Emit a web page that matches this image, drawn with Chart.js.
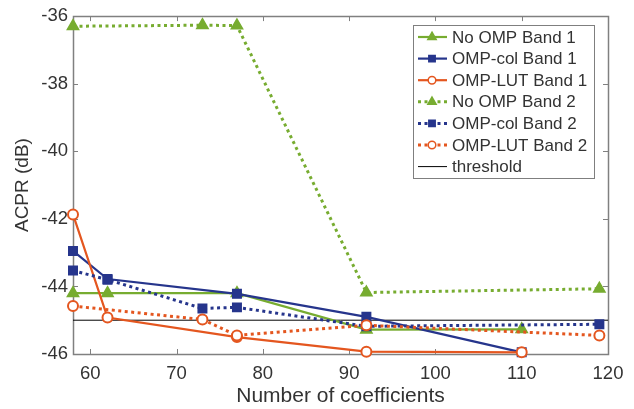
<!DOCTYPE html>
<html><head><meta charset="utf-8">
<script src="https://cdn.jsdelivr.net/npm/chart.js@4/dist/chart.umd.min.js"></script>
<style>html,body{margin:0;padding:0;background:#fff}#wrap{width:634px;height:409px}</style>
</head><body><div id="wrap"><canvas id="c" width="634" height="409"></canvas></div>
<script>
const xTicks = [60,70,80,90,100,110,120];
const yTicks = [-46,-44,-42,-40,-38,-36];

const noOmp1X = [58,62,77,92,110];
const noOmp1Y = [-44.2,-44.2,-44.2,-45.28,-45.27];
const col1X = [58,62,77,92,110];
const col1Y = [-42.95,-43.78,-44.22,-44.9,-45.95];
const lut1X = [58,62,77,92,110];
const lut1Y = [-41.87,-44.92,-45.5,-45.93,-45.95];
const noOmp2X = [58,73,77,92,119];
const noOmp2Y = [-36.3,-36.27,-36.28,-44.18,-44.07];
const col2X = [58,62,73,77,92,119];
const col2Y = [-43.53,-43.8,-44.65,-44.62,-45.18,-45.12];
const lut2X = [58,73,77,92,119];
const lut2Y = [-44.58,-44.98,-45.45,-45.15,-45.45];
const thrX = [58,120];
const thrY = [-45,-45];

const GREEN='#77AC30', BLUE='#26358C', ORANGE='#E4561F';
const FONT='"Liberation Sans", Arial, sans-serif';
const pts=(xs,ys)=>xs.map((x,i)=>({x:x,y:ys[i]}));

function ds(label,xs,ys,color,style,dotted,fill){
  return {label:label,data:pts(xs,ys),borderColor:color,backgroundColor:fill,
    borderWidth:dotted?3:2.2,borderDash:dotted?[3,3.5]:[],pointStyle:style,
    pointRadius:style==='triangle'?6.5:(style==='rect'?6:5),pointBorderWidth:style==='circle'?2:1.5,
    pointBorderColor:color,pointBackgroundColor:fill,tension:0,clip:false,showLine:true};
}
const datasets=[
  ds('No OMP Band 1',noOmp1X,noOmp1Y,GREEN,'triangle',false,GREEN),
  ds('OMP-col Band 1',col1X,col1Y,BLUE,'rect',false,BLUE),
  ds('OMP-LUT Band 1',lut1X,lut1Y,ORANGE,'circle',false,'#ffffff'),
  ds('No OMP Band 2',noOmp2X,noOmp2Y,GREEN,'triangle',true,GREEN),
  ds('OMP-col Band 2',col2X,col2Y,BLUE,'rect',true,BLUE),
  ds('OMP-LUT Band 2',lut2X,lut2Y,ORANGE,'circle',true,'#ffffff'),
  {label:'threshold',data:pts(thrX,thrY),borderColor:'#000',borderWidth:1,pointRadius:0,showLine:true,clip:false}
];
datasets.forEach((d,i)=>{d.order=i===6?10:6-i;});

const AX='#808080', TXT='#333333';
const legendR={triangle:4.8,rect:4.5,circle:3.8};
const axesPlugin={id:'axesPlugin',
  beforeDatasetsDraw(chart){
    const a=chart.chartArea,ctx=chart.ctx,xs=chart.scales.x,ys=chart.scales.y;
    ctx.save();ctx.strokeStyle=AX;ctx.lineWidth=1;
    ctx.beginPath();
    xTicks.forEach(v=>{const p=Math.round(xs.getPixelForValue(v))+0.5;
      ctx.moveTo(p,a.bottom);ctx.lineTo(p,a.bottom-5);ctx.moveTo(p,a.top);ctx.lineTo(p,a.top+5);});
    yTicks.forEach(v=>{const p=Math.round(ys.getPixelForValue(v))+0.5;
      ctx.moveTo(a.left,p);ctx.lineTo(a.left+5,p);ctx.moveTo(a.right,p);ctx.lineTo(a.right-5,p);});
    ctx.stroke();
    ctx.lineWidth=1.5;
    ctx.strokeRect(Math.round(a.left)+0.5,Math.round(a.top)+0.5,Math.round(a.right-a.left),Math.round(a.bottom-a.top));
    ctx.restore();
  },
  afterDraw(chart){
    const ctx=chart.ctx;
    const L=413,T=25,R=594,B=178;
    ctx.save();
    ctx.fillStyle='#fff';ctx.fillRect(L,T,R-L,B-T);
    ctx.strokeStyle='#7f7f7f';ctx.lineWidth=1;ctx.strokeRect(L+0.5,T+0.5,R-L,B-T);
    datasets.forEach((d,i)=>{
      const y=37+i*21.6;
      ctx.save();
      ctx.strokeStyle=d.borderColor;ctx.lineWidth=d.borderWidth;
      ctx.setLineDash(d.borderDash||[]);
      ctx.beginPath();ctx.moveTo(418,y);ctx.lineTo(447,y);ctx.stroke();
      ctx.setLineDash([]);
      if(d.pointRadius>0){
        ctx.fillStyle=d.pointBackgroundColor;ctx.strokeStyle=d.borderColor;ctx.lineWidth=1.5;
        Chart.helpers.drawPoint(ctx,{pointStyle:d.pointStyle,radius:legendR[d.pointStyle],borderWidth:1.5},432,y);
      }
      ctx.restore();
      ctx.fillStyle=TXT;ctx.font='17px '+FONT;
      ctx.textBaseline='middle';ctx.textAlign='left';
      ctx.fillText(d.label,452,y+1);
    });
    ctx.restore();
  }
};

new Chart(document.getElementById('c'),{
  type:'scatter',
  data:{datasets:datasets},
  options:{responsive:false,animation:false,devicePixelRatio:1,
    layout:{padding:{top:13,right:26,left:0,bottom:0}},
    plugins:{legend:{display:false},tooltip:{enabled:false}},
    scales:{
      x:{type:'linear',min:58,max:120,
        afterBuildTicks(s){s.ticks=xTicks.map(v=>({value:v}));},
        afterFit(s){s.height=55;},
        grid:{display:false,drawTicks:false},border:{display:false},
        ticks:{color:TXT,padding:9,font:{family:FONT,size:18.5},maxRotation:0},
        title:{display:true,text:'Number of coefficients',color:TXT,padding:{top:0,bottom:0},font:{family:FONT,size:21}}},
      y:{type:'linear',min:-46,max:-36,
        afterBuildTicks(s){s.ticks=yTicks.map(v=>({value:v}));},
        afterFit(s){s.width=73;},
        grid:{display:false,drawTicks:false},border:{display:false},
        ticks:{color:TXT,padding:5,font:{family:FONT,size:18.5}},
        title:{display:true,text:'ACPR (dB)',color:TXT,padding:{top:11,bottom:0},font:{family:FONT,size:19}}}
    }
  },
  plugins:[axesPlugin]
});
</script></body></html>
